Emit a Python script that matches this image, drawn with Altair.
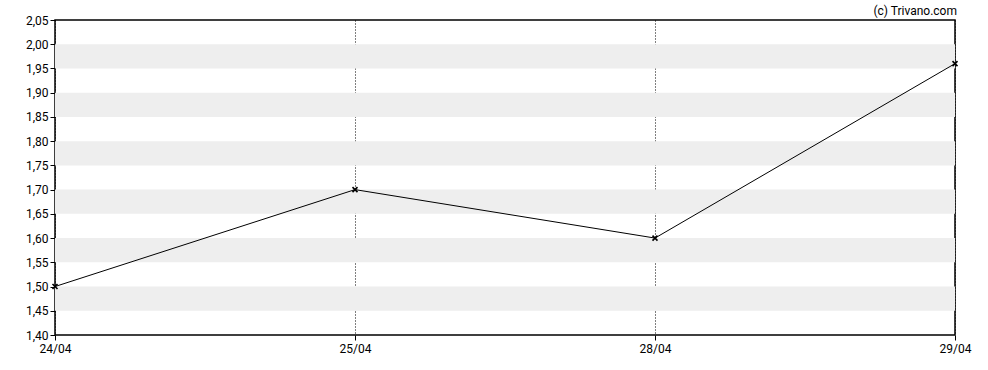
import altair as alt
import pandas as pd

dates = ["24/04", "25/04", "28/04", "29/04"]
values = [1.50, 1.70, 1.60, 1.96]
y_ticks = [1.40, 1.45, 1.50, 1.55, 1.60, 1.65, 1.70, 1.75, 1.80, 1.85, 1.90, 1.95, 2.00, 2.05]
band_low = [1.45, 1.55, 1.65, 1.75, 1.85, 1.95]
band_high = [1.50, 1.60, 1.70, 1.80, 1.90, 2.00]

df = pd.DataFrame({"date": dates, "value": values})
bands = pd.DataFrame({"lo": band_low, "hi": band_high})

FONT = "Roboto"

yscale = alt.Scale(domain=[1.40, 2.05], nice=False, zero=False)
xscale = alt.Scale(type="point", padding=0, domain=dates)

xaxis = alt.Axis(
    title=None, labelAngle=0, grid=True, gridColor="black", gridDash=[1, 2],
    gridWidth=1, gridOpacity=1, domain=False, ticks=True, tickColor="black",
    tickSize=5, labelPadding=3, labelFont=FONT, labelFontSize=12,
    labelColor="black", labelOverlap=False,
)
yaxis = alt.Axis(
    title=None, values=y_ticks, grid=False, domain=False, ticks=True,
    tickColor="black", tickSize=5, labelPadding=2, labelFont=FONT,
    labelFontSize=12, labelColor="black", labelOverlap=False,
    labelFlush=False,
    labelExpr="replace(format(datum.value, '.2f'), '.', ',')",
)

band_layer = alt.Chart(bands).mark_rect(color="#eeeeee").encode(
    y=alt.Y("lo:Q", scale=yscale, axis=yaxis),
    y2="hi:Q",
)

line = alt.Chart(df).mark_line(color="black", strokeWidth=1).encode(
    x=alt.X("date:N", scale=xscale, axis=xaxis, sort=dates),
    y=alt.Y("value:Q", scale=yscale, axis=yaxis),
)

points = alt.Chart(df).mark_point(
    shape="M-1,-1L1,1M-1,1L1,-1", filled=False, color="black",
    size=25, strokeWidth=1.6, opacity=1,
).encode(
    x=alt.X("date:N", scale=xscale, sort=dates, axis=xaxis),
    y=alt.Y("value:Q", scale=yscale, axis=yaxis),
)

chart = alt.layer(band_layer, line, points).properties(
    width=900, height=315,
    background="white",
    autosize=alt.AutoSizeParams(type="none"),
    padding={"left": 55, "top": 20, "right": 33, "bottom": 35},
    title=alt.TitleParams(
        "(c) Trivano.com", anchor="end", fontSize=12, fontWeight="normal",
        font=FONT, color="black", offset=6, dx=2, dy=10, frame="group",
    ),
).configure_view(stroke="black", strokeWidth=1.5)

chart.save("out.html", embed_options={"renderer": "svg", "actions": False})
